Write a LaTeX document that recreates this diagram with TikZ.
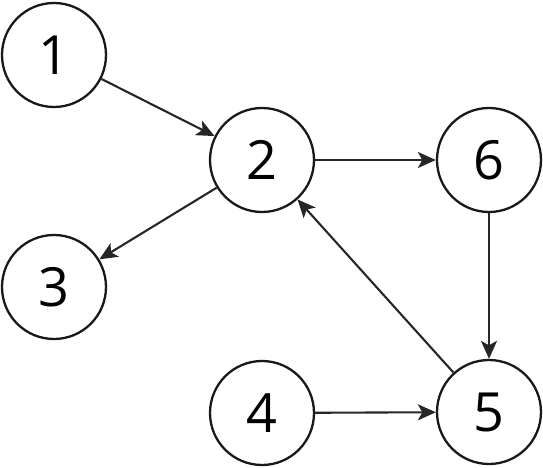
\documentclass[tikz,border=0pt]{standalone}
\usepackage{fontspec}
\setmainfont{Open Sans}
\usetikzlibrary{arrows.meta}
\begin{document}
\begin{tikzpicture}[x=1pt,y=-1pt,
  vnode/.style={circle,draw=black!90,line width=2.3pt,minimum size=104pt,inner sep=0pt,font=\fontsize{54}{54}\selectfont},
  edge/.style={draw=black!85,line width=2.1pt,-{Stealth[length=18pt,width=16pt,inset=4.5pt]}}]
\useasboundingbox (0,0) rectangle (543,468);
\node[vnode] (n1) at (54,55) {1};
\node[vnode] (n2) at (262,160) {2};
\node[vnode] (n6) at (489,160) {6};
\node[vnode] (n3) at (54,287) {3};
\node[vnode] (n4) at (262,413) {4};
\node[vnode] (n5) at (489,412) {5};
\draw[edge] (n1) -- (n2);
\draw[edge] (n2) -- (n6);
\draw[edge] (n2) -- (n3);
\draw[edge] (n6) -- (n5);
\draw[edge] (n5) -- (n2);
\draw[edge] (n4) -- (n5);
\end{tikzpicture}
\end{document}
